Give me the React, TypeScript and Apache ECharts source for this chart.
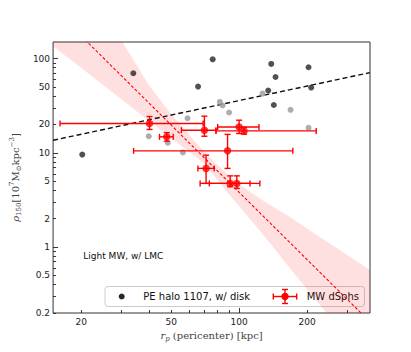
import React, { useEffect, useRef } from "react";
import * as echarts from "echarts";

// PE halo 1107 (dark) and gray points
const haloDarkX = [20.2, 34, 65.8, 76.4, 138.8, 203, 145, 134.6, 208.6, 142.5];
const haloDarkY = [9.6, 69.9, 50.5, 98.3, 87.7, 80.9, 63.8, 45.8, 49.3, 32.2];
const haloGrayX = [39.8, 48.3, 59.1, 56.4, 82.2, 84.5, 127, 90.3, 169, 203];
const haloGrayY = [15.0, 12.8, 23.3, 10.1, 34.7, 31.8, 42.6, 26.8, 28.6, 18.4];

// MW dSphs with error bars
const dsphX = [40.1, 47.8, 70.2, 88.9, 105.2, 100, 71.4, 91.3, 97.7];
const dsphY = [20.5, 14.8, 17.4, 10.5, 17.1, 18.8, 6.84, 4.74, 4.74];
const dsphXLo = [16.1, 44.4, 55.5, 34.1, 79.0, 80.4, 65.7, 67.2, 73.8];
const dsphXHi = [69.3, 51.1, 79.0, 173, 219.5, 122.5, 77.6, 111.8, 123.6];
const dsphYLo = [17.7, 13.3, 15.0, 6.84, 15.8, 16.05, 4.74, 4.37, 4.2];
const dsphYHi = [24.3, 16.4, 24.5, 15.7, 18.6, 22.2, 9.46, 5.7, 5.7];

// fit lines
const dsphFitX = [15, 380];
const dsphFitY = [343, 0.161];
const haloFitX = [15, 380];
const haloFitY = [13.6, 71];

// confidence band of dSph fit
const bandX = [15, 20, 30, 40, 50, 60, 70, 80, 90, 100, 130, 170, 220, 280, 380];
const bandHi = [2410, 769, 159, 51.4, 25.8, 15.6, 10.3, 7.5, 5.82, 4.64, 3.03, 2.05, 1.35, 0.927, 0.573];
const bandLo = [135.5, 79.4, 37.3, 21.6, 14.4, 10.3, 7.69, 5.2, 3.66, 2.71, 1.29, 0.577, 0.27, 0.135, 0.058];

// ticks
const xLabels = [20, 50, 100, 200];
const xMajorTicks = [100];
const xMinorTicks = [20, 30, 40, 50, 60, 70, 80, 90, 200, 300];
const yLabels = [0.2, 0.5, 1, 2, 5, 10, 20, 50, 100];
const yMajorTicks = [1, 10, 100];
const yMinorTicks = [0.2, 0.3, 0.4, 0.5, 0.6, 0.7, 0.8, 0.9, 2, 3, 4, 5, 6, 7, 8, 9, 20, 30, 40, 50, 60, 70, 80, 90];

const X_MIN = 15, X_MAX = 380, Y_MIN = 0.2, Y_MAX = 150;
const SANS = "DejaVu Sans";
const SERIF = "DejaVu Serif";
const RED = "#ff0000";

const fmt = (v: number) => String(Number(Number(v).toPrecision(6)));

export default function App() {
  const ref = useRef<HTMLDivElement>(null);
  useEffect(() => {
    document.body.style.margin = "0";
    const chart = echarts.init(ref.current!, undefined, { renderer: "svg" });
    const tickLine = { color: "#222", width: 0.9 };
    const baseX = {
      type: "log" as const, logBase: 10, min: X_MIN, max: X_MAX, gridIndex: 0,
      axisLine: { show: false, onZero: false }, splitLine: { show: false },
    };
    const baseY = {
      type: "log" as const, logBase: 10, min: Y_MIN, max: Y_MAX, gridIndex: 0,
      axisLine: { show: false, onZero: false }, splitLine: { show: false },
    };
    chart.setOption({
      animation: false,
      grid: { left: 52, right: 41, top: 42, bottom: 39, show: true, borderColor: "#333", borderWidth: 1, backgroundColor: "transparent", containLabel: false },
      xAxis: [
        {
          ...baseX, position: "bottom",
          axisTick: { show: true, inside: true, length: 5, customValues: xMajorTicks, lineStyle: tickLine },
          axisLabel: { show: true, customValues: xLabels, formatter: fmt, margin: 4, fontSize: 9, fontFamily: SANS, color: "#222" },
          name: "{i|r}{s|p}{m| (pericenter) [kpc]}",
          nameLocation: "middle", nameGap: 16,
          nameTextStyle: {
            color: "#444", fontFamily: SERIF, fontSize: 10, verticalAlign: "top",
            rich: {
              i: { fontFamily: SERIF, fontStyle: "italic", fontSize: 10, color: "#444", lineHeight: 13, verticalAlign: "middle" },
              s: { fontFamily: SERIF, fontStyle: "italic", fontSize: 7, color: "#444", lineHeight: 13, verticalAlign: "bottom" },
              m: { fontFamily: SERIF, fontSize: 10, color: "#444", lineHeight: 13, verticalAlign: "middle" },
            },
          },
        },
        {
          ...baseX, position: "bottom",
          axisTick: { show: true, inside: true, length: 3, customValues: xMinorTicks, lineStyle: tickLine },
          axisLabel: { show: false },
        },
      ],
      yAxis: [
        {
          ...baseY, position: "left",
          axisTick: { show: true, inside: true, length: 5, customValues: yMajorTicks, lineStyle: tickLine },
          axisLabel: { show: true, customValues: yLabels, formatter: fmt, margin: 3, fontSize: 9, fontFamily: SANS, color: "#222" },
          name: "{g|ρ}{s|150}{m|[10}{p|7}{m|M}{s|⊙}{m|kpc}{p|−3}{m|]}",
          nameLocation: "middle", nameRotate: 90, nameGap: 24,
          nameTextStyle: {
            color: "#444", fontFamily: SERIF, fontSize: 10,
            rich: {
              g: { fontFamily: SERIF, fontStyle: "italic", fontSize: 10, color: "#444", lineHeight: 14, verticalAlign: "middle" },
              s: { fontFamily: SERIF, fontSize: 7, color: "#444", lineHeight: 14, verticalAlign: "bottom" },
              p: { fontFamily: SERIF, fontSize: 7, color: "#444", lineHeight: 14, verticalAlign: "top" },
              m: { fontFamily: SERIF, fontSize: 10, color: "#444", lineHeight: 14, verticalAlign: "middle" },
            },
          },
        },
        {
          ...baseY, position: "left",
          axisTick: { show: true, inside: true, length: 3, customValues: yMinorTicks, lineStyle: tickLine },
          axisLabel: { show: false },
        },
      ],
      series: [
        {
          type: "custom", name: "band", xAxisIndex: 0, yAxisIndex: 0, silent: true, z: 1,
          data: bandX.map((x, i) => [x, bandLo[i], bandHi[i]]),
          encode: { x: 0, y: 1 },
          renderItem: (params: any, api: any) => {
            if (params.dataIndex !== 0) return null;
            const up = bandX.map((x, i) => api.coord([x, bandHi[i]]));
            const lo = bandX.map((x, i) => api.coord([x, bandLo[i]])).reverse();
            const cs = params.coordSys;
            return {
              type: "polygon",
              shape: { points: up.concat(lo) },
              style: { fill: "rgba(255,0,0,0.12)", stroke: "none" },
              clipPath: { type: "rect", shape: { x: cs.x, y: cs.y, width: cs.width, height: cs.height } },
            };
          },
        },
        {
          type: "line", name: "halo fit", xAxisIndex: 0, yAxisIndex: 0, z: 3, showSymbol: false, symbol: "none",
          data: haloFitX.map((x, i) => [x, haloFitY[i]]),
          lineStyle: { color: "#111", width: 1.4, type: [5, 3] },
        },
        {
          type: "line", name: "dSph fit", xAxisIndex: 0, yAxisIndex: 0, z: 3, showSymbol: false, symbol: "none",
          data: dsphFitX.map((x, i) => [x, dsphFitY[i]]),
          lineStyle: { color: RED, width: 1.1, type: [3, 2] },
        },
        {
          type: "scatter", name: "PE halo 1107 (secondary)", xAxisIndex: 0, yAxisIndex: 0, z: 4,
          data: haloGrayX.map((x, i) => [x, haloGrayY[i]]),
          symbolSize: 6, itemStyle: { color: "#999999" },
        },
        {
          type: "scatter", name: "PE halo 1107, w/ disk", xAxisIndex: 0, yAxisIndex: 0, z: 4,
          data: haloDarkX.map((x, i) => [x, haloDarkY[i]]),
          symbolSize: 6, itemStyle: { color: "#262626" },
        },
        {
          type: "custom", name: "MW dSphs errors", xAxisIndex: 0, yAxisIndex: 0, z: 5,
          data: dsphX.map((x, i) => [x, dsphY[i], dsphXLo[i], dsphXHi[i], dsphYLo[i], dsphYHi[i]]),
          encode: { x: 0, y: 1 },
          renderItem: (params: any, api: any) => {
            const y = api.value(1), x = api.value(0);
            const l = api.coord([api.value(2), y]);
            const r = api.coord([api.value(3), y]);
            const b = api.coord([x, api.value(4)]);
            const t = api.coord([x, api.value(5)]);
            const cap = 3;
            const style = { stroke: RED, lineWidth: 1.4 };
            const ln = (x1: number, y1: number, x2: number, y2: number) => ({ type: "line", shape: { x1, y1, x2, y2 }, style });
            return {
              type: "group",
              children: [
                ln(l[0], l[1], r[0], r[1]),
                ln(t[0], t[1], b[0], b[1]),
                ln(l[0], l[1] - cap, l[0], l[1] + cap),
                ln(r[0], r[1] - cap, r[0], r[1] + cap),
                ln(t[0] - cap, t[1], t[0] + cap, t[1]),
                ln(b[0] - cap, b[1], b[0] + cap, b[1]),
              ],
            };
          },
        },
        {
          type: "scatter", name: "MW dSphs", xAxisIndex: 0, yAxisIndex: 0, z: 6,
          data: dsphX.map((x, i) => [x, dsphY[i]]),
          symbolSize: 7.5, itemStyle: { color: RED },
        },
      ],
      graphic: [
        {
          type: "text", x: 83.3, y: 255.5, z: 50,
          style: { text: "Light MW, w/ LMC", fontSize: 9, fontFamily: SANS, fill: "#111", align: "left", verticalAlign: "middle" },
        },
        {
          type: "group", z: 100,
          children: [
            { type: "rect", shape: { x: 105, y: 286.5, width: 259.5, height: 20, r: 3 }, style: { fill: "rgba(255,255,255,0.85)", stroke: "#cccccc", lineWidth: 1 } },
            { type: "circle", shape: { cx: 121.7, cy: 296.5, r: 3 }, style: { fill: "#262626" } },
            { type: "text", x: 143.3, y: 296.5, style: { text: "PE halo 1107, w/ disk", fontSize: 10, fontFamily: SANS, fill: "#111", align: "left", verticalAlign: "middle" } },
            { type: "line", shape: { x1: 273.3, y1: 296.5, x2: 296.7, y2: 296.5 }, style: { stroke: RED, lineWidth: 1.4 } },
            { type: "line", shape: { x1: 273.3, y1: 293.5, x2: 273.3, y2: 299.5 }, style: { stroke: RED, lineWidth: 1.4 } },
            { type: "line", shape: { x1: 296.7, y1: 293.5, x2: 296.7, y2: 299.5 }, style: { stroke: RED, lineWidth: 1.4 } },
            { type: "line", shape: { x1: 285, y1: 289.5, x2: 285, y2: 303.5 }, style: { stroke: RED, lineWidth: 1.4 } },
            { type: "line", shape: { x1: 282, y1: 289.5, x2: 288, y2: 289.5 }, style: { stroke: RED, lineWidth: 1.4 } },
            { type: "line", shape: { x1: 282, y1: 303.5, x2: 288, y2: 303.5 }, style: { stroke: RED, lineWidth: 1.4 } },
            { type: "circle", shape: { cx: 285, cy: 296.5, r: 3.7 }, style: { fill: RED } },
            { type: "text", x: 306.7, y: 296.5, style: { text: "MW dSphs", fontSize: 10, fontFamily: SANS, fill: "#111", align: "left", verticalAlign: "middle" } },
          ],
        },
      ],
    });
    return () => chart.dispose();
  }, []);
  return <div ref={ref} style={{ width: 411, height: 352 }} />;
}
